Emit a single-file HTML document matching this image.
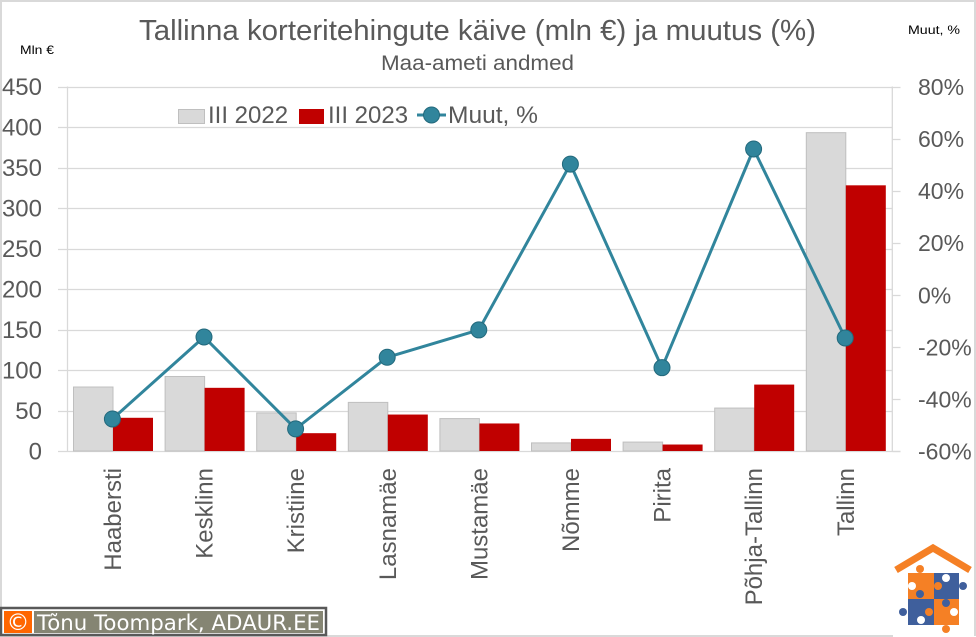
<!DOCTYPE html>
<html lang="et">
<head>
<meta charset="utf-8">
<title>Tallinna korteritehingute käive</title>
<style>
html,body{margin:0;padding:0;background:#fff;}
#chart{display:block;width:976px;height:637px;font-family:"Liberation Sans",sans-serif;}
</style>
</head>
<body>
<svg id="chart" xmlns="http://www.w3.org/2000/svg" width="976" height="637" viewBox="0 0 976 637">
  <rect x="1" y="1" width="974" height="635" fill="#fff" stroke="#d9d9d9" stroke-width="2"/>
  <rect x="893" y="530" width="83" height="107" fill="#fff"/>
  <line x1="975" y1="530" x2="975" y2="636" stroke="#d9d9d9" stroke-width="2"/>
  <text x="139" y="40" font-size="29" fill="#595959" textLength="677" lengthAdjust="spacingAndGlyphs">Tallinna korteritehingute käive (mln €) ja muutus (%)</text>
  <text x="381" y="70" font-size="21" fill="#595959" textLength="193" lengthAdjust="spacingAndGlyphs">Maa-ameti andmed</text>
  <text x="20" y="54" font-size="12" fill="#000" textLength="34" lengthAdjust="spacingAndGlyphs">Mln €</text>
  <text x="908" y="34" font-size="12" fill="#000" textLength="52" lengthAdjust="spacingAndGlyphs">Muut, %</text>

  <g id="grid"></g>
  <g id="bars"></g>
  <g id="axes"></g>
  <g id="line"></g>
  <g id="labels"></g>

  <g>
    <g>
      <rect x="178.5" y="109.5" width="26" height="14" fill="#d9d9d9" stroke="#bfbfbf"/>
      <text x="208" y="123" font-size="24" fill="#595959">III 2022</text>
    </g>
    <g>
      <rect x="299" y="109" width="25" height="15" fill="#c00000"/>
      <text x="328" y="123" font-size="24" fill="#595959">III 2023</text>
    </g>
    <g>
      <line x1="417" y1="115" x2="446" y2="115" stroke="#31859c" stroke-width="3"/>
      <circle cx="431.5" cy="115" r="8" fill="#31859c" stroke="#23697c"/>
      <text x="448" y="123" font-size="24" fill="#595959" textLength="90" lengthAdjust="spacingAndGlyphs">Muut, %</text>
    </g>
  </g>

  <g>
    <rect x="1" y="608" width="325" height="27" fill="#fff" stroke="#595959" stroke-width="2.5"/>
    <rect x="4" y="611" width="28" height="22" fill="#ff6600"/>
    <text x="18" y="630" font-size="23" fill="#fff" text-anchor="middle" font-family="'DejaVu Sans',sans-serif">©</text>
    <rect x="34" y="611" width="289" height="22" fill="#858573"/>
    <text x="37" y="630" font-size="21.5" fill="#fff" font-family="'DejaVu Sans',sans-serif" textLength="283" lengthAdjust="spacingAndGlyphs">Tõnu Toompark, ADAUR.EE</text>
  </g>

  <g>
    <polyline points="896,570 933,548 970,570" fill="none" stroke="#f58025" stroke-width="7"/>
    <rect x="908" y="573" width="26" height="26" fill="#f58025"/>
    <rect x="934" y="573" width="25" height="26" fill="#3f5f9c"/>
    <rect x="908" y="599" width="26" height="26" fill="#3f5f9c"/>
    <rect x="934" y="599" width="25" height="26" fill="#f58025"/>
    <circle cx="920" cy="569" r="4" fill="#f58025"/>
    <circle cx="963" cy="586" r="4" fill="#3f5f9c"/>
    <circle cx="903" cy="612" r="4" fill="#3f5f9c"/>
    <circle cx="946" cy="629" r="4" fill="#f58025"/>
    <circle cx="946" cy="578" r="4" fill="#fff"/>
    <circle cx="912" cy="586" r="4" fill="#fff"/>
    <circle cx="954" cy="612" r="4" fill="#fff"/>
    <circle cx="921" cy="620" r="4" fill="#fff"/>
    <circle cx="938" cy="586" r="4" fill="#f58025"/>
    <circle cx="920" cy="594" r="4" fill="#3f5f9c"/>
    <circle cx="946" cy="603" r="4" fill="#3f5f9c"/>
    <circle cx="929" cy="612" r="4" fill="#f58025"/>
  </g>
</svg>
<script>
var categories = ["Haabersti", "Kesklinn", "Kristiine", "Lasnamäe", "Mustamäe", "Nõmme", "Pirita", "Põhja-Tallinn", "Tallinn"];
var turnover2022 = [79, 92, 47, 60, 40, 10, 11, 53, 393];
var turnover2023 = [41, 78, 22, 45, 34, 15, 8, 82, 328];
var changePct = [-47.7, -16.2, -51.5, -24, -13.5, 50.2, -28, 56, -16.6];
var leftTicks = [0, 50, 100, 150, 200, 250, 300, 350, 400, 450];
var rightTicks = [-60, -40, -20, 0, 20, 40, 60, 80];

var NS = 'http://www.w3.org/2000/svg';
var plotLeft = 67.5, plotRight = 892.3, plotTop = 86.5, plotBottom = 451;
var bandWidth = 91.6;
var firstCenter = 113;
var markerShift = -0.6;
var barWidth = 40;

function xCenter(i) { return firstCenter + bandWidth * i; }
function yLeft(v) { return plotBottom - (v - leftTicks[0]) / (leftTicks[leftTicks.length - 1] - leftTicks[0]) * (plotBottom - plotTop); }
function yRight(v) { return plotBottom - (v - rightTicks[0]) / (rightTicks[rightTicks.length - 1] - rightTicks[0]) * (plotBottom - plotTop); }
function make(tag, parent, attrs, text) {
  var el = document.createElementNS(NS, tag);
  for (var k in attrs) { el.setAttribute(k, attrs[k]); }
  if (text !== undefined) { el.textContent = text; }
  parent.appendChild(el);
  return el;
}

var grid = document.getElementById('grid');
var bars = document.getElementById('bars');
var axes = document.getElementById('axes');
var line = document.getElementById('line');
var labels = document.getElementById('labels');

leftTicks.forEach(function (t) {
  var y = Math.round(yLeft(t)) + 0.5;
  var gl = make('line', grid, {x1: 58, x2: t === 0 ? 900.5 : plotRight, y1: y, y2: y, stroke: '#d9d9d9', 'stroke-width': 1.3});
  
  
  var lb = make('text', labels, {x: 42, y: yLeft(t) + 8.5, 'font-size': 24, fill: '#595959', 'text-anchor': 'end'}, String(t));
  
  
});

rightTicks.forEach(function (t) {
  var y = Math.round(yRight(t)) + 0.5;
  var tk = make('line', axes, {x1: plotRight, x2: 900.5, y1: y, y2: y, stroke: '#d9d9d9', 'stroke-width': 1.3});
  
  
  var lb = make('text', labels, {x: 918, y: yRight(t) + 8.5, 'font-size': 23, fill: '#595959'}, t + '%');
  
  
});

var axisL = make('line', axes, {x1: plotLeft, x2: plotLeft, y1: plotTop, y2: plotBottom, stroke: '#d9d9d9', 'stroke-width': 1.3});


var axisR = make('line', axes, {x1: plotRight, x2: plotRight, y1: plotTop, y2: plotBottom, stroke: '#d9d9d9', 'stroke-width': 1.3});



categories.forEach(function (c, i) {
  var cx = xCenter(i);
  var b1 = make('rect', bars, {x: cx - barWidth + 0.5, y: yLeft(turnover2022[i]), width: barWidth - 0.5, height: plotBottom - yLeft(turnover2022[i]), fill: '#d9d9d9', stroke: '#bfbfbf', 'stroke-width': 1});
  
  
  var b2 = make('rect', bars, {x: cx, y: yLeft(turnover2023[i]), width: barWidth, height: plotBottom - yLeft(turnover2023[i]), fill: '#c00000'});
  
  
  var t = make('text', labels, {'font-size': 24, fill: '#595959', 'text-anchor': 'end', transform: 'translate(' + (cx + 8) + ',468) rotate(-90)'}, c);
  
  
});

var pts = changePct.map(function (v, i) { return (xCenter(i) + markerShift) + ',' + yRight(v); }).join(' ');
var poly = make('polyline', line, {points: pts, fill: 'none', stroke: '#31859c', 'stroke-width': 3, 'stroke-linejoin': 'round'});


changePct.forEach(function (v, i) {
  var m = make('circle', line, {cx: xCenter(i) + markerShift, cy: yRight(v), r: 8, fill: '#31859c', stroke: '#23697c', 'stroke-width': 1});
  
  
});
</script>
</body>
</html>
